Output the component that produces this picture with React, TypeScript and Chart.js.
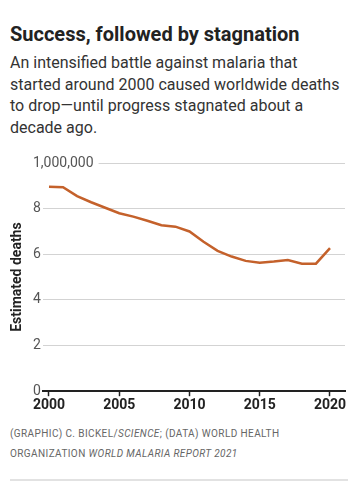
import React, { useEffect, useRef } from "react";
import { Chart, registerables } from "chart.js";

Chart.register(...registerables);

const years = [2000, 2001, 2002, 2003, 2004, 2005, 2006, 2007, 2008, 2009, 2010, 2011, 2012, 2013, 2014, 2015, 2016, 2017, 2018, 2019, 2020];
const deaths = [896000, 894000, 855000, 828000, 804000, 780000, 765000, 747000, 727000, 721000, 700000, 655000, 615000, 590000, 571000, 563000, 568000, 575000, 559000, 559000, 627000];
const xTickValues = [2000, 2005, 2010, 2015, 2020];
const yTickValues = [0, 200000, 400000, 600000, 800000, 1000000];

const titleText = "Success, followed by stagnation";
const subtitleLines = [
  "An intensified battle against malaria that",
  "started around 2000 caused worldwide deaths",
  "to drop\u2014until progress stagnated about a",
  "decade ago.",
];
const yAxisTitle = "Estimated deaths";

function LineChart() {
  const ref = useRef<HTMLCanvasElement | null>(null);
  useEffect(() => {
    if (!ref.current) return;
    Chart.defaults.font.family = "Roboto";
    const chart = new Chart(ref.current, {
      type: "line",
      data: {
        datasets: [
          {
            data: years.map((yr, i) => ({ x: yr, y: deaths[i] })),
            borderColor: "#c4612b",
            borderWidth: 2.5,
            pointRadius: 0,
            tension: 0,
            fill: false,
          },
        ],
      },
      options: {
        animation: false,
        responsive: false,
        maintainAspectRatio: false,
        layout: { padding: { top: 13, right: 9, bottom: 0, left: 0 } },
        plugins: { legend: { display: false }, tooltip: { enabled: false } },
        scales: {
          x: {
            type: "linear",
            min: 1999.573,
            max: 2021.068,
            afterBuildTicks: (s: any) => {
              s.ticks = xTickValues.map((v) => ({ value: v }));
            },
            grid: {
              display: true,
              drawOnChartArea: false,
              drawTicks: true,
              tickLength: 5,
              tickColor: "#222",
              tickWidth: 1.5,
            },
            border: { display: true, color: "#222", width: 2 },
            ticks: {
              autoSkip: false,
              maxRotation: 0,
              padding: 1,
              color: "#222",
              font: { family: "Roboto", size: 14, weight: "bold" },
              callback: (v: any) => String(v),
            },
          },
          y: {
            min: 0,
            max: 1000000,
            afterBuildTicks: (s: any) => {
              s.ticks = yTickValues.map((v) => ({ value: v }));
            },
            afterFit: (s: any) => {
              s.width = 35;
            },
            grid: { color: "#d3d3d3", lineWidth: 1, drawTicks: false },
            border: { display: false },
            title: {
              display: true,
              text: yAxisTitle,
              color: "#222",
              font: { family: "Roboto", size: 14, weight: "bold" },
              padding: { top: 1, bottom: 0 },
            },
            ticks: {
              mirror: true,
              padding: -10,
              crossAlign: "near",
              color: "#555",
              font: { family: "Roboto", size: 14 },
              showLabelBackdrop: (ctx: any) => !!ctx.tick && ctx.tick.value === 1000000,
              backdropColor: "#ffffff",
              backdropPadding: { top: 0, bottom: 0, left: 0, right: 5 },
              callback: (v: any) => (Number(v) === 1000000 ? "1,000,000" : String(Number(v) / 100000)),
            },
          },
        },
      } as any,
    });
    return () => chart.destroy();
  }, []);
  return <canvas ref={ref} width={346} height={265} style={{ display: "block", width: 346, height: 265 }} />;
}

export default function App() {
  return (
    <div style={{ position: "relative", width: 346, height: 474, fontFamily: "Roboto, sans-serif", color: "#222" }}>
      <div style={{ position: "absolute", left: 2, top: -2, width: 338, borderTop: "2px solid #e2e2e2" }} />
      <div style={{ position: "absolute", left: 2, top: 14, fontSize: 20, lineHeight: "24px", fontWeight: 700, color: "#222", whiteSpace: "nowrap" }}>
        {titleText}
      </div>
      <div style={{ position: "absolute", left: 2, top: 44, fontSize: 16, lineHeight: "21.67px", color: "#333", whiteSpace: "nowrap" }}>
        {subtitleLines.map((l, i) => (
          <div key={i}>{l}</div>
        ))}
      </div>
      <div style={{ position: "absolute", left: 0, top: 142, width: 346, height: 265 }}>
        <LineChart />
      </div>
      <div style={{ position: "absolute", left: 2, top: 416, fontSize: 10, lineHeight: "20px", color: "#666", letterSpacing: "0.4px", whiteSpace: "nowrap" }}>
        <div>
          (GRAPHIC) C. BICKEL/<i>SCIENCE</i>; (DATA) WORLD HEALTH
        </div>
        <div>
          ORGANIZATION <i>WORLD MALARIA REPORT 2021</i>
        </div>
      </div>
      <div style={{ position: "absolute", left: 2, top: 471, width: 338, borderTop: "2px solid #e2e2e2" }} />
    </div>
  );
}
